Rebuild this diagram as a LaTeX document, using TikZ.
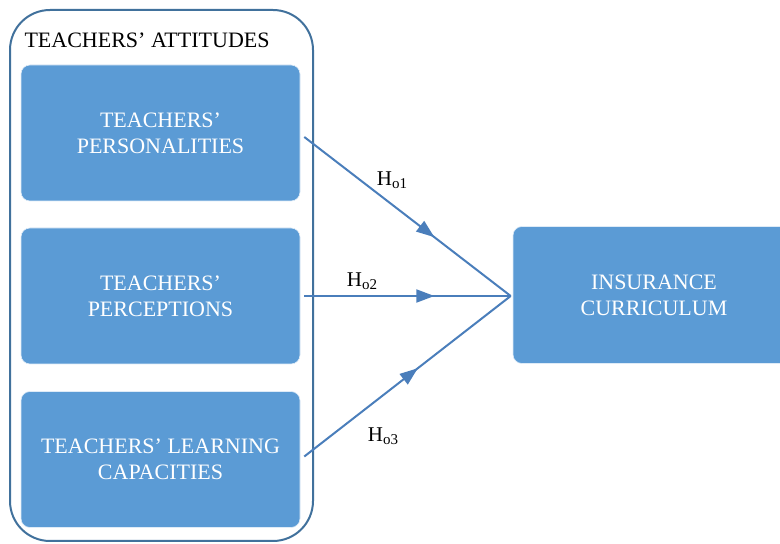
\documentclass[tikz,border=0pt]{standalone}
\usepackage{fontspec}
\setmainfont{Liberation Serif}
\usetikzlibrary{arrows.meta,decorations.markings}
\colorlet{box fill}{rgb,255:red,91;green,155;blue,213}
\colorlet{frame edge}{rgb,255:red,65;green,113;blue,156}
\colorlet{link line}{rgb,255:red,74;green,126;blue,187}
\def\boxfont{\fontsize{22}{26}\selectfont}
\def\hsub#1{H\raisebox{-3pt}{\fontsize{15}{15}\selectfont #1}}
\tikzset{factor/.style={fill=box fill, draw=white!80!box fill, line width=0.6pt, rounded corners=9pt,
		minimum width=279pt, minimum height=136pt, align=center, text=white, font=\boxfont},
	link/.style={draw=link line, line width=2pt, postaction={decorate},
		decoration={markings, mark=at position #1 with {\arrow{Triangle[length=18pt,width=13pt]}}}},
	hyp/.style={font=\fontsize{21}{24}\selectfont}}

\begin{document}
\begin{tikzpicture}[x=1pt,y=1pt]
		\useasboundingbox (0,0) rectangle (780,544);
		\draw[frame edge, line width=2pt, rounded corners=40pt] (10,3) rectangle (313,534);
		\node[anchor=west, font=\boxfont] (title) at (21,504) {TEACHERS’ ATTITUDES};
		
		\node[factor] (pers) at (160.5,411) {TEACHERS’\\PERSONALITIES};
		\node[factor] (perc) at (160.5,248) {TEACHERS’\\PERCEPTIONS};
		\node[factor] (lcap) at (160.5,84.5) {TEACHERS’ LEARNING\\CAPACITIES};
		\node[factor, minimum width=282pt, minimum height=137pt] (curr) at (654,249) {INSURANCE\\CURRICULUM};
		
		\coordinate (join) at ([xshift=-2pt]curr.west |- perc.east);
		\draw[link=0.63] ([xshift=4pt,yshift=-4pt]pers.east) -- (join);
		\draw[link=0.63] ([xshift=4pt]perc.east) -- (join);
		\draw[link=0.55] ([xshift=4pt,yshift=3pt]lcap.east) -- (join);
		
		\node[hyp] (h1) at (392,364) {\hsub{o1}};
		\node[hyp] (h2) at (362,263) {\hsub{o2}};
		\node[hyp] (h3) at (383,108) {\hsub{o3}};
		\end{tikzpicture}
\end{document}
